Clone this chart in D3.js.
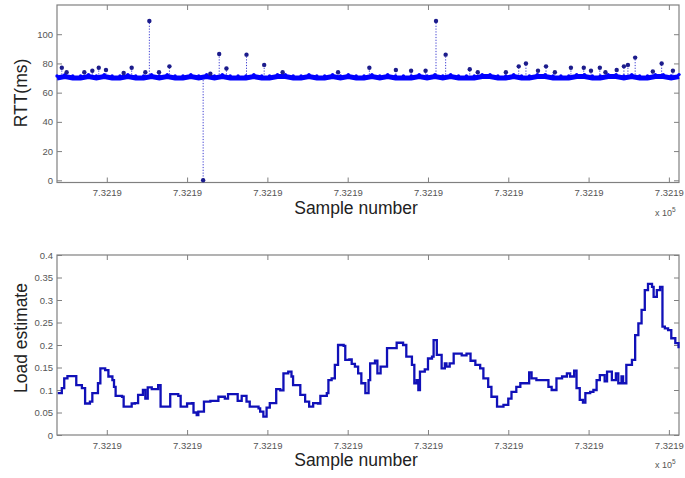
<!DOCTYPE html>
<html>
<head>
<meta charset="utf-8">
<script src="https://cdn.jsdelivr.net/npm/d3@7"></script>
<style>
  body { margin: 0; background: #fff; }
  svg { display: block; font-family: "Liberation Sans", Arial, sans-serif; }
  .tick text { fill: #555; font-size: 9.5px; }
</style>
</head>
<body>
<div id="chart"></div>
<script>
// sample numbers are stored as offsets from sampleBase
const sampleBase = 732185;
const xDomain = [0.38, 8.126];
const xTicks = [1, 2, 3, 4, 5, 6, 7, 8];
const xTickLabel = "7.3219";

const rttTicks = [0, 20, 40, 60, 80, 100];
const loadTicks = [0, 0.05, 0.1, 0.15, 0.2, 0.25, 0.3, 0.35, 0.4];

// RTT baseline band (evenly spaced samples across the window)
const rttBase = [
  70, 71, 70, 70, 71, 70, 71, 70, 70, 71, 70, 70, 71, 70, 71, 70, 70, 71, 70, 71,
  70, 71, 70, 70, 70, 71, 70, 70, 71, 71, 70, 70, 71, 70, 70, 71, 70, 71, 70, 70,
  71, 70, 71, 70, 70, 70, 71, 70, 71, 70, 71, 70, 70, 70, 71, 71, 70, 70, 71, 70,
  70, 71, 71, 70, 70, 70, 71, 71, 70, 70, 71, 71, 70, 71, 70, 70, 71, 71, 70, 71
];
const rttLevel = 70.5;

// RTT outliers
const spikeSample = [
  0.44, 0.50, 0.72, 0.82, 0.90, 0.99, 1.21, 1.31, 1.48, 1.53, 1.65, 1.78,
  2.20, 2.29, 2.40, 2.49, 2.74, 2.96, 3.19, 3.88, 4.27, 4.60, 4.79, 4.97,
  5.10, 5.22, 5.52, 5.62, 5.97, 6.13, 6.22, 6.37, 6.47, 6.58, 6.78, 6.94,
  7.03, 7.14, 7.21, 7.35, 7.44, 7.49, 7.58, 7.80, 7.91, 8.05
];
const spikeRtt = [
  77, 74, 74, 75, 77, 75.5, 73.5, 77, 74, 109, 74, 78,
  0, 73, 86.5, 76.5, 86, 79, 74, 74, 77, 75.5, 75, 75,
  109, 86, 76, 74, 74, 78, 80, 75, 78, 74, 77, 77,
  75, 77, 74, 75.5, 78, 79, 84, 74.5, 80, 75
];

// load estimate
const loadSample = [
  0.39, 0.44, 0.47, 0.51, 0.60, 0.62, 0.69, 0.73, 0.79, 0.82, 0.87, 0.89, 0.92, 0.98,
  1.02, 1.07, 1.09, 1.11, 1.19, 1.21, 1.31, 1.35, 1.39, 1.45, 1.48, 1.51, 1.56, 1.64,
  1.67, 1.77, 1.79, 1.89, 1.92, 2.00, 2.06, 2.08, 2.12, 2.14, 2.20, 2.21, 2.29, 2.39,
  2.47, 2.51, 2.60, 2.63, 2.68, 2.74, 2.78, 2.89, 2.91, 2.95, 2.99, 3.03, 3.08, 3.11,
  3.16, 3.20, 3.26, 3.30, 3.32, 3.37, 3.41, 3.47, 3.52, 3.57, 3.63, 3.66, 3.74, 3.76,
  3.80, 3.84, 3.88, 3.95, 3.97, 4.02, 4.05, 4.09, 4.13, 4.17, 4.22, 4.26, 4.28, 4.34,
  4.37, 4.41, 4.46, 4.49, 4.57, 4.61, 4.69, 4.73, 4.80, 4.83, 4.86, 4.88, 4.90, 4.96,
  5.00, 5.05, 5.07, 5.11, 5.17, 5.21, 5.23, 5.27, 5.32, 5.42, 5.48, 5.53, 5.59, 5.65,
  5.69, 5.75, 5.79, 5.86, 5.94, 6.00, 6.04, 6.10, 6.15, 6.21, 6.26, 6.29, 6.35, 6.44,
  6.50, 6.54, 6.60, 6.67, 6.73, 6.77, 6.82, 6.85, 6.89, 6.93, 6.96, 7.02, 7.06, 7.10,
  7.14, 7.20, 7.23, 7.29, 7.34, 7.37, 7.41, 7.43, 7.47, 7.54, 7.58, 7.62, 7.66, 7.70,
  7.74, 7.79, 7.81, 7.85, 7.89, 7.92, 7.95, 7.99, 8.03, 8.08, 8.12
];
const loadValue = [
  0.093, 0.104, 0.126, 0.131, 0.131, 0.111, 0.104, 0.070, 0.074, 0.093, 0.093, 0.115, 0.148, 0.144,
  0.130, 0.122, 0.107, 0.087, 0.085, 0.063, 0.070, 0.071, 0.089, 0.100, 0.081, 0.106, 0.102, 0.111,
  0.063, 0.063, 0.091, 0.087, 0.063, 0.070, 0.071, 0.050, 0.044, 0.052, 0.052, 0.074, 0.076, 0.085,
  0.081, 0.091, 0.091, 0.076, 0.087, 0.074, 0.063, 0.059, 0.052, 0.041, 0.061, 0.071, 0.071, 0.102,
  0.099, 0.137, 0.141, 0.130, 0.111, 0.111, 0.089, 0.074, 0.063, 0.071, 0.070, 0.087, 0.093, 0.122,
  0.126, 0.156, 0.200, 0.198, 0.167, 0.168, 0.158, 0.152, 0.137, 0.115, 0.093, 0.122, 0.159, 0.165,
  0.137, 0.152, 0.152, 0.193, 0.193, 0.205, 0.200, 0.174, 0.156, 0.115, 0.122, 0.100, 0.141, 0.146,
  0.170, 0.174, 0.211, 0.178, 0.148, 0.159, 0.152, 0.159, 0.181, 0.177, 0.181, 0.165, 0.156, 0.148,
  0.126, 0.107, 0.085, 0.063, 0.067, 0.081, 0.096, 0.107, 0.115, 0.115, 0.139, 0.126, 0.122, 0.122,
  0.107, 0.100, 0.126, 0.130, 0.137, 0.130, 0.143, 0.104, 0.078, 0.072, 0.093, 0.096, 0.100, 0.122,
  0.133, 0.119, 0.141, 0.122, 0.137, 0.115, 0.130, 0.115, 0.156, 0.167, 0.222, 0.248, 0.278, 0.322,
  0.336, 0.329, 0.307, 0.322, 0.329, 0.241, 0.237, 0.233, 0.215, 0.204, 0.193
];

const W = 685, H = 478;
const left = 57, right = 679;
const axisColor = "#808080";

const svg = d3.select("#chart").append("svg")
  .attr("width", W)
  .attr("height", H);

const x = d3.scaleLinear()
  .domain(xDomain.map(d => d + sampleBase))
  .range([left, right]);

function drawFrame(y, top, bottom, yTicks, yFmt) {
  let g = svg.append("g");

  // bottom axis with labels, ticks pointing inwards
  g.append("g")
    .attr("transform", "translate(0," + bottom + ")")
    .call(d3.axisBottom(x)
      .tickValues(xTicks.map(d => d + sampleBase))
      .tickFormat(() => xTickLabel)
      .tickSizeInner(-5).tickSizeOuter(0).tickPadding(7));
  // mirrored top ticks
  g.append("g")
    .attr("transform", "translate(0," + top + ")")
    .call(d3.axisTop(x)
      .tickValues(xTicks.map(d => d + sampleBase))
      .tickFormat("")
      .tickSizeInner(-5).tickSizeOuter(0));
  g.append("g")
    .attr("transform", "translate(" + left + ",0)")
    .call(d3.axisLeft(y)
      .tickValues(yTicks)
      .tickFormat(yFmt)
      .tickSizeInner(-5).tickSizeOuter(0).tickPadding(4));
  g.append("g")
    .attr("transform", "translate(" + right + ",0)")
    .call(d3.axisRight(y)
      .tickValues(yTicks)
      .tickFormat("")
      .tickSizeInner(-5).tickSizeOuter(0));

  g.selectAll(".domain").remove();
  g.selectAll(".tick line").attr("stroke", axisColor);

  g.append("rect")
    .attr("x", left).attr("y", top)
    .attr("width", right - left).attr("height", bottom - top)
    .attr("fill", "none")
    .attr("stroke", axisColor)
    .attr("stroke-width", 1.2);

  // x label and exponent
  g.append("text")
    .attr("x", 356).attr("y", bottom + 31)
    .attr("text-anchor", "middle")
    .attr("font-size", 17.5)
    .attr("fill", "#222")
    .text("Sample number");

  let ex = g.append("text")
    .attr("x", 655).attr("y", bottom + 33)
    .attr("font-size", 9)
    .attr("fill", "#555");
  ex.append("tspan").text("x 10");
  ex.append("tspan").attr("dy", -4).attr("font-size", 6.5).text("5");

  return g;
}

// ---------- top: RTT ----------
const yRtt = d3.scaleLinear().domain([-1.5, 120]).range([182.5, 5]);
drawFrame(yRtt, 5, 182.5, rttTicks, d3.format("d"));

svg.append("text")
  .attr("transform", "translate(27,93) rotate(-90)")
  .attr("text-anchor", "middle")
  .attr("font-size", 17.5)
  .attr("fill", "#222")
  .text("RTT(ms)");

let baseStep = (xDomain[1] - xDomain[0]) / (rttBase.length - 1);
let basePts = rttBase.map((v, i) => [sampleBase + xDomain[0] + i * baseStep, v]);

// dotted stems for the outliers
svg.append("g").selectAll("line")
  .data(spikeSample)
  .enter().append("line")
  .attr("x1", d => x(d + sampleBase))
  .attr("x2", d => x(d + sampleBase))
  .attr("y1", yRtt(rttLevel))
  .attr("y2", (d, i) => yRtt(spikeRtt[i]))
  .attr("stroke", "#3a3ad0")
  .attr("stroke-width", 1)
  .attr("stroke-dasharray", "1.2,1.6");

svg.append("path")
  .datum(basePts)
  .attr("fill", "none")
  .attr("stroke", "#0000ff")
  .attr("stroke-width", 5)
  .attr("d", d3.line()
    .x(d => x(d[0]))
    .y(d => yRtt(d[1])));

svg.append("g").selectAll("circle")
  .data(basePts)
  .enter().append("circle")
  .attr("cx", d => x(d[0]))
  .attr("cy", d => yRtt(d[1]) - 2)
  .attr("r", 1.7)
  .attr("fill", "#0000ff");

svg.append("g").selectAll("circle")
  .data(spikeSample)
  .enter().append("circle")
  .attr("cx", d => x(d + sampleBase))
  .attr("cy", (d, i) => yRtt(spikeRtt[i]))
  .attr("r", 2.2)
  .attr("fill", "#1c1c8c");

// ---------- bottom: load estimate ----------
const yLoad = d3.scaleLinear().domain([0, 0.4]).range([435, 255]);
drawFrame(yLoad, 255, 435, loadTicks, d => d === 0 ? "0" : d3.format("")(d));

svg.append("text")
  .attr("transform", "translate(27,338) rotate(-90)")
  .attr("text-anchor", "middle")
  .attr("font-size", 17.5)
  .attr("fill", "#222")
  .text("Load estimate");

svg.append("path")
  .datum(loadSample.map((s, i) => [s + sampleBase, loadValue[i]]))
  .attr("fill", "none")
  .attr("stroke", "#1010b8")
  .attr("stroke-width", 2.3)
  .attr("stroke-linejoin", "miter")
  .attr("d", d3.line()
    .curve(d3.curveStepAfter)
    .x(d => x(d[0]))
    .y(d => yLoad(d[1])));
</script>
</body>
</html>
